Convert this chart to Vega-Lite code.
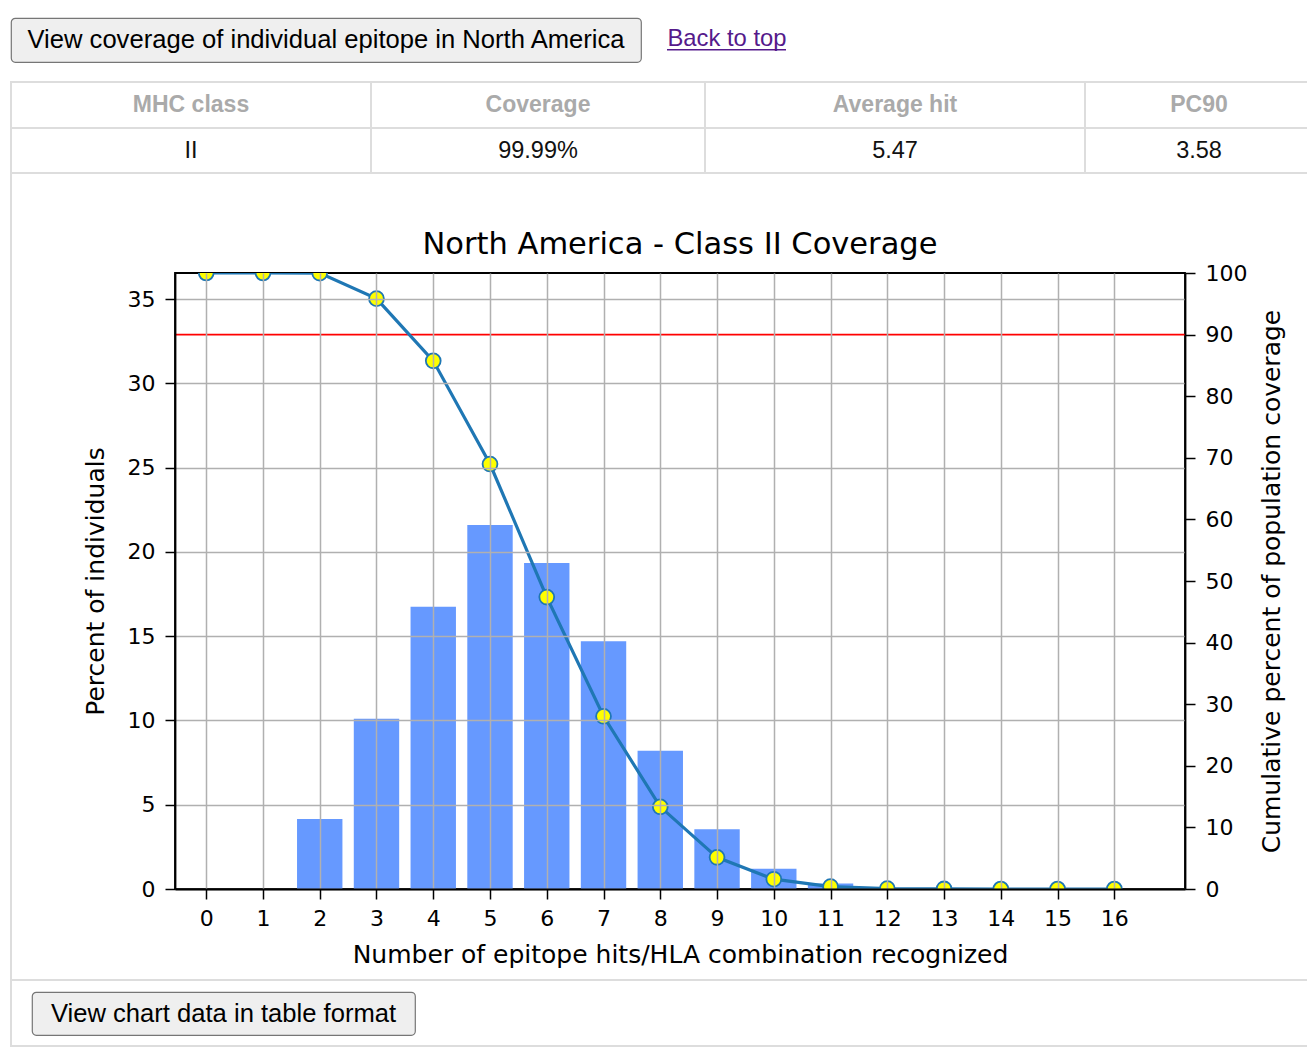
{
  "$schema": "https://vega.github.io/schema/vega-lite/v6.json",
  "background": "white",
  "padding": 0,
  "config": {"view": {"stroke": null}, "concat": {"spacing": 0}, "font": "Liberation Sans"},
  "datasets": {
    "coverage": [
      {"hits": 0, "percent": 0, "cumulative": 100},
      {"hits": 1, "percent": 0, "cumulative": 100},
      {"hits": 2, "percent": 4.15, "cumulative": 99.99},
      {"hits": 3, "percent": 10.1, "cumulative": 95.84},
      {"hits": 4, "percent": 16.75, "cumulative": 85.74},
      {"hits": 5, "percent": 21.6, "cumulative": 68.99},
      {"hits": 6, "percent": 19.35, "cumulative": 47.39},
      {"hits": 7, "percent": 14.7, "cumulative": 28.04},
      {"hits": 8, "percent": 8.2, "cumulative": 13.34},
      {"hits": 9, "percent": 3.55, "cumulative": 5.14},
      {"hits": 10, "percent": 1.2, "cumulative": 1.59},
      {"hits": 11, "percent": 0.32, "cumulative": 0.39},
      {"hits": 12, "percent": 0.06, "cumulative": 0.07},
      {"hits": 13, "percent": 0.01, "cumulative": 0.01},
      {"hits": 14, "percent": 0, "cumulative": 0},
      {"hits": 15, "percent": 0, "cumulative": 0},
      {"hits": 16, "percent": 0, "cumulative": 0}
    ],
    "summary": [{"mhc": "II", "coverage": "99.99%", "avg_hit": 5.47, "pc90": 3.58}],
    "threshold": [{"pc": 90}],
    "none": []
  },
  "spacing": 0,
  "vconcat": [
    {"width": 1, "height": 16.4, "data": {"name": "none"}, "mark": "point", "encoding": {}},
    {
      "spacing": 0, "bounds": "flush",
      "hconcat": [
        {"width": 11, "height": 44, "data": {"name": "none"}, "mark": "point", "encoding": {}},
        {"width": 630, "height": 44, "data": {"name": "summary"},
         "view": {"fill": "#efefef", "stroke": "#767676", "strokeWidth": 1.2, "cornerRadius": 4},
         "mark": {"type": "text", "font": "Liberation Sans", "fontSize": 25.6, "color": "#000000"},
         "encoding": {"text": {"value": "View coverage of individual epitope in North America"}}},
        {"width": 26, "height": 44, "data": {"name": "none"}, "mark": "point", "encoding": {}},
        {
          "spacing": 0, "bounds": "flush",
          "vconcat": [
            {"width": 120, "height": 31, "data": {"name": "summary"},
             "mark": {"type": "text", "font": "Liberation Sans", "fontSize": 23.8, "color": "#551a8b", "baseline": "alphabetic", "dy": 12},
             "encoding": {"text": {"value": "Back to top"}}},
            {"width": 119, "height": 1.6, "data": {"name": "none"}, "mark": "point", "encoding": {}, "view": {"fill": "#551a8b", "stroke": null}}
          ]
        }
      ]
    },
    {"width": 1, "height": 17.4, "data": {"name": "none"}, "mark": "point", "encoding": {}},
    {
      "spacing": 0, "bounds": "flush",
      "hconcat": [
        {"width": 10, "height": 2, "data": {"name": "none"}, "mark": "point", "encoding": {}},
        {"width": 1297, "height": 2, "data": {"name": "none"}, "mark": "point", "encoding": {}, "view": {"fill": "#dddddd", "stroke": null}}
      ]
    },
    {
      "spacing": 0, "bounds": "flush",
      "hconcat": [
        {"width": 10, "height": 44, "data": {"name": "none"}, "mark": "point", "encoding": {}},
        {"width": 2, "height": 44, "data": {"name": "none"}, "mark": "point", "encoding": {}, "view": {"fill": "#dddddd", "stroke": null}},
        {"width": 358, "height": 44, "data": {"name": "summary"},
         "mark": {"type": "text", "font": "Liberation Sans", "fontSize": 23, "fontWeight": "bold", "color": "#aaaaaa"},
         "encoding": {"text": {"value": "MHC class"}}},
        {"width": 2, "height": 44, "data": {"name": "none"}, "mark": "point", "encoding": {}, "view": {"fill": "#dddddd", "stroke": null}},
        {"width": 332, "height": 44, "data": {"name": "summary"},
         "mark": {"type": "text", "font": "Liberation Sans", "fontSize": 23, "fontWeight": "bold", "color": "#aaaaaa"},
         "encoding": {"text": {"value": "Coverage"}}},
        {"width": 2, "height": 44, "data": {"name": "none"}, "mark": "point", "encoding": {}, "view": {"fill": "#dddddd", "stroke": null}},
        {"width": 378, "height": 44, "data": {"name": "summary"},
         "mark": {"type": "text", "font": "Liberation Sans", "fontSize": 23, "fontWeight": "bold", "color": "#aaaaaa"},
         "encoding": {"text": {"value": "Average hit"}}},
        {"width": 2, "height": 44, "data": {"name": "none"}, "mark": "point", "encoding": {}, "view": {"fill": "#dddddd", "stroke": null}},
        {"width": 221, "height": 44, "data": {"name": "summary"},
         "mark": {"type": "text", "font": "Liberation Sans", "fontSize": 23, "fontWeight": "bold", "color": "#aaaaaa", "dx": 2.5},
         "encoding": {"text": {"value": "PC90"}}}
      ]
    },
    {
      "spacing": 0, "bounds": "flush",
      "hconcat": [
        {"width": 10, "height": 2, "data": {"name": "none"}, "mark": "point", "encoding": {}},
        {"width": 1297, "height": 2, "data": {"name": "none"}, "mark": "point", "encoding": {}, "view": {"fill": "#dddddd", "stroke": null}}
      ]
    },
    {
      "spacing": 0, "bounds": "flush",
      "hconcat": [
        {"width": 10, "height": 43, "data": {"name": "none"}, "mark": "point", "encoding": {}},
        {"width": 2, "height": 43, "data": {"name": "none"}, "mark": "point", "encoding": {}, "view": {"fill": "#dddddd", "stroke": null}},
        {"width": 358, "height": 43, "data": {"name": "summary"},
         "mark": {"type": "text", "font": "Liberation Sans", "fontSize": 23.5, "color": "#111111"},
         "encoding": {"text": {"field": "mhc", "type": "nominal"}}},
        {"width": 2, "height": 43, "data": {"name": "none"}, "mark": "point", "encoding": {}, "view": {"fill": "#dddddd", "stroke": null}},
        {"width": 332, "height": 43, "data": {"name": "summary"},
         "mark": {"type": "text", "font": "Liberation Sans", "fontSize": 23.5, "color": "#111111"},
         "encoding": {"text": {"field": "coverage", "type": "nominal"}}},
        {"width": 2, "height": 43, "data": {"name": "none"}, "mark": "point", "encoding": {}, "view": {"fill": "#dddddd", "stroke": null}},
        {"width": 378, "height": 43, "data": {"name": "summary"},
         "mark": {"type": "text", "font": "Liberation Sans", "fontSize": 23.5, "color": "#111111"},
         "encoding": {"text": {"field": "avg_hit", "type": "quantitative", "format": ".2f"}}},
        {"width": 2, "height": 43, "data": {"name": "none"}, "mark": "point", "encoding": {}, "view": {"fill": "#dddddd", "stroke": null}},
        {"width": 221, "height": 43, "data": {"name": "summary"},
         "mark": {"type": "text", "font": "Liberation Sans", "fontSize": 23.5, "color": "#111111", "dx": 2.5},
         "encoding": {"text": {"field": "pc90", "type": "quantitative", "format": ".2f"}}}
      ]
    },
    {
      "spacing": 0, "bounds": "flush",
      "hconcat": [
        {"width": 10, "height": 2, "data": {"name": "none"}, "mark": "point", "encoding": {}},
        {"width": 1297, "height": 2, "data": {"name": "none"}, "mark": "point", "encoding": {}, "view": {"fill": "#dddddd", "stroke": null}}
      ]
    },
    {
      "spacing": 0, "bounds": "flush",
      "hconcat": [
        {"width": 10, "height": 805, "data": {"name": "none"}, "mark": "point", "encoding": {}},
        {"width": 2, "height": 805, "data": {"name": "none"}, "mark": "point", "encoding": {}, "view": {"fill": "#dddddd", "stroke": null}},
        {"width": 163, "height": 805, "data": {"name": "none"}, "mark": "point", "encoding": {}},
        {
          "spacing": 0, "bounds": "flush",
          "vconcat": [
            {"width": 1, "height": 99, "data": {"name": "none"}, "mark": "point", "encoding": {}},
            {
              "width": 1010,
              "height": 616,
              "data": {"name": "coverage"},
              "view": {"stroke": "#000000", "strokeWidth": 1.8},
              "title": {"text": "North America - Class II Coverage", "font": "DejaVu Sans", "fontSize": 30.5, "fontWeight": "normal", "color": "#000000", "anchor": "middle", "baseline": "alphabetic", "offset": 16, "dy": 38},
              "layer": [
                {
                  "mark": {"type": "bar", "width": 45.4, "color": "#6699ff"},
                  "encoding": {
                    "x": {
                      "field": "hits", "type": "quantitative",
                      "scale": {"domain": [-0.55, 17.245], "nice": false, "zero": false, "padding": 0},
                      "axis": {
                        "values": [0, 1, 2, 3, 4, 5, 6, 7, 8, 9, 10, 11, 12, 13, 14, 15, 16],
                        "format": "d",
                        "title": "Number of epitope hits/HLA combination recognized",
                        "grid": true, "gridColor": "#b0b0b0", "gridWidth": 1.5,
                        "domain": true, "domainColor": "#000000", "domainWidth": 1.8,
                        "ticks": true, "tickColor": "#000000", "tickSize": 10, "tickWidth": 1.5,
                        "labelFont": "DejaVu Sans", "labelFontSize": 22, "labelColor": "#000000",
                        "labelPadding": 9, "labelAngle": 0, "labelFlush": false, "labelOverlap": false,
                        "titleFont": "DejaVu Sans", "titleFontSize": 25, "titleFontWeight": "normal", "titleColor": "#000000",
                        "titlePadding": 13, "zindex": 1
                      }
                    },
                    "y": {
                      "field": "percent", "type": "quantitative",
                      "scale": {"domain": [0, 36.55], "nice": false},
                      "axis": {
                        "values": [0, 5, 10, 15, 20, 25, 30, 35],
                        "title": "Percent of individuals",
                        "grid": true, "gridColor": "#b0b0b0", "gridWidth": 1.5,
                        "domain": true, "domainColor": "#000000", "domainWidth": 1.8,
                        "ticks": true, "tickColor": "#000000", "tickSize": 10, "tickWidth": 1.5,
                        "labelFont": "DejaVu Sans", "labelFontSize": 22, "labelColor": "#000000",
                        "labelPadding": 10, "labelFlush": false, "labelOverlap": false,
                        "titleFont": "DejaVu Sans", "titleFontSize": 25, "titleFontWeight": "normal", "titleColor": "#000000",
                        "titlePadding": 19, "zindex": 1
                      }
                    }
                  }
                },
                {
                  "layer": [
                    {
                      "data": {"name": "threshold"},
                      "mark": {"type": "rule", "color": "#ff0000", "strokeWidth": 1.8, "zindex": 2},
                      "encoding": {
                        "y": {
                          "field": "pc", "type": "quantitative",
                          "scale": {"domain": [0, 100], "nice": false},
                          "axis": {
                            "orient": "right",
                            "values": [0, 10, 20, 30, 40, 50, 60, 70, 80, 90, 100],
                            "title": "Cumulative percent of population coverage",
                            "grid": false,
                            "domain": true, "domainColor": "#000000", "domainWidth": 1.8,
                            "ticks": true, "tickColor": "#000000", "tickSize": 10, "tickWidth": 1.5,
                            "labelFont": "DejaVu Sans", "labelFontSize": 22, "labelColor": "#000000",
                            "labelPadding": 10, "labelFlush": false, "labelOverlap": false,
                            "titleFont": "DejaVu Sans", "titleFontSize": 25, "titleFontWeight": "normal", "titleColor": "#000000",
                            "titleAngle": 270, "titleBaseline": "top",
                            "titlePadding": 13, "zindex": 1
                          }
                        }
                      }
                    },
                    {
                      "mark": {"type": "line", "color": "#1f77b4", "strokeWidth": 3.2, "zindex": 3, "clip": true},
                      "encoding": {
                        "x": {
                          "field": "hits", "type": "quantitative",
                          "scale": {"domain": [-0.55, 17.245], "nice": false, "zero": false, "padding": 0},
                          "axis": {
                            "values": [0, 1, 2, 3, 4, 5, 6, 7, 8, 9, 10, 11, 12, 13, 14, 15, 16],
                            "format": "d",
                            "title": "Number of epitope hits/HLA combination recognized",
                            "grid": true, "gridColor": "#b0b0b0", "gridWidth": 1.5,
                            "domain": true, "domainColor": "#000000", "domainWidth": 1.8,
                            "ticks": true, "tickColor": "#000000", "tickSize": 10, "tickWidth": 1.5,
                            "labelFont": "DejaVu Sans", "labelFontSize": 22, "labelColor": "#000000",
                            "labelPadding": 9, "labelAngle": 0, "labelFlush": false, "labelOverlap": false,
                            "titleFont": "DejaVu Sans", "titleFontSize": 25, "titleFontWeight": "normal", "titleColor": "#000000",
                            "titlePadding": 13, "zindex": 1
                          }
                        },
                        "y": {
                          "field": "cumulative", "type": "quantitative",
                          "scale": {"domain": [0, 100], "nice": false},
                          "axis": {
                            "orient": "right",
                            "values": [0, 10, 20, 30, 40, 50, 60, 70, 80, 90, 100],
                            "title": "Cumulative percent of population coverage",
                            "grid": false,
                            "domain": true, "domainColor": "#000000", "domainWidth": 1.8,
                            "ticks": true, "tickColor": "#000000", "tickSize": 10, "tickWidth": 1.5,
                            "labelFont": "DejaVu Sans", "labelFontSize": 22, "labelColor": "#000000",
                            "labelPadding": 10, "labelFlush": false, "labelOverlap": false,
                            "titleFont": "DejaVu Sans", "titleFontSize": 25, "titleFontWeight": "normal", "titleColor": "#000000",
                            "titleAngle": 270, "titleBaseline": "top",
                            "titlePadding": 13, "zindex": 1
                          }
                        }
                      }
                    },
                    {
                      "mark": {"type": "point", "filled": true, "fill": "#ffff00", "stroke": "#1f77b4", "strokeWidth": 1.8, "size": 220, "opacity": 1, "zindex": 4, "clip": true},
                      "encoding": {
                        "x": {
                          "field": "hits", "type": "quantitative",
                          "scale": {"domain": [-0.55, 17.245], "nice": false, "zero": false, "padding": 0},
                          "axis": {
                            "values": [0, 1, 2, 3, 4, 5, 6, 7, 8, 9, 10, 11, 12, 13, 14, 15, 16],
                            "format": "d",
                            "title": "Number of epitope hits/HLA combination recognized",
                            "grid": true, "gridColor": "#b0b0b0", "gridWidth": 1.5,
                            "domain": true, "domainColor": "#000000", "domainWidth": 1.8,
                            "ticks": true, "tickColor": "#000000", "tickSize": 10, "tickWidth": 1.5,
                            "labelFont": "DejaVu Sans", "labelFontSize": 22, "labelColor": "#000000",
                            "labelPadding": 9, "labelAngle": 0, "labelFlush": false, "labelOverlap": false,
                            "titleFont": "DejaVu Sans", "titleFontSize": 25, "titleFontWeight": "normal", "titleColor": "#000000",
                            "titlePadding": 13, "zindex": 1
                          }
                        },
                        "y": {
                          "field": "cumulative", "type": "quantitative",
                          "scale": {"domain": [0, 100], "nice": false},
                          "axis": {
                            "orient": "right",
                            "values": [0, 10, 20, 30, 40, 50, 60, 70, 80, 90, 100],
                            "title": "Cumulative percent of population coverage",
                            "grid": false,
                            "domain": true, "domainColor": "#000000", "domainWidth": 1.8,
                            "ticks": true, "tickColor": "#000000", "tickSize": 10, "tickWidth": 1.5,
                            "labelFont": "DejaVu Sans", "labelFontSize": 22, "labelColor": "#000000",
                            "labelPadding": 10, "labelFlush": false, "labelOverlap": false,
                            "titleFont": "DejaVu Sans", "titleFontSize": 25, "titleFontWeight": "normal", "titleColor": "#000000",
                            "titleAngle": 270, "titleBaseline": "top",
                            "titlePadding": 13, "zindex": 1
                          }
                        }
                      }
                    }
                  ]
                }
              ],
              "resolve": {"scale": {"y": "independent"}}
            }
          ]
        }
      ]
    },
    {
      "spacing": 0, "bounds": "flush",
      "hconcat": [
        {"width": 10, "height": 2, "data": {"name": "none"}, "mark": "point", "encoding": {}},
        {"width": 1297, "height": 2, "data": {"name": "none"}, "mark": "point", "encoding": {}, "view": {"fill": "#dddddd", "stroke": null}}
      ]
    },
    {
      "spacing": 0, "bounds": "flush",
      "hconcat": [
        {"width": 10, "height": 64, "data": {"name": "none"}, "mark": "point", "encoding": {}},
        {"width": 2, "height": 64, "data": {"name": "none"}, "mark": "point", "encoding": {}, "view": {"fill": "#dddddd", "stroke": null}},
        {"width": 20, "height": 64, "data": {"name": "none"}, "mark": "point", "encoding": {}},
        {
          "spacing": 0, "bounds": "flush",
          "vconcat": [
            {"width": 1, "height": 11, "data": {"name": "none"}, "mark": "point", "encoding": {}},
            {"width": 383, "height": 43, "data": {"name": "summary"},
             "view": {"fill": "#efefef", "stroke": "#767676", "strokeWidth": 1.2, "cornerRadius": 4},
             "mark": {"type": "text", "font": "Liberation Sans", "fontSize": 25.6, "color": "#000000"},
             "encoding": {"text": {"value": "View chart data in table format"}}}
          ]
        }
      ]
    },
    {
      "spacing": 0, "bounds": "flush",
      "hconcat": [
        {"width": 10, "height": 2, "data": {"name": "none"}, "mark": "point", "encoding": {}},
        {"width": 1297, "height": 2, "data": {"name": "none"}, "mark": "point", "encoding": {}, "view": {"fill": "#dddddd", "stroke": null}}
      ]
    }
  ]
}
